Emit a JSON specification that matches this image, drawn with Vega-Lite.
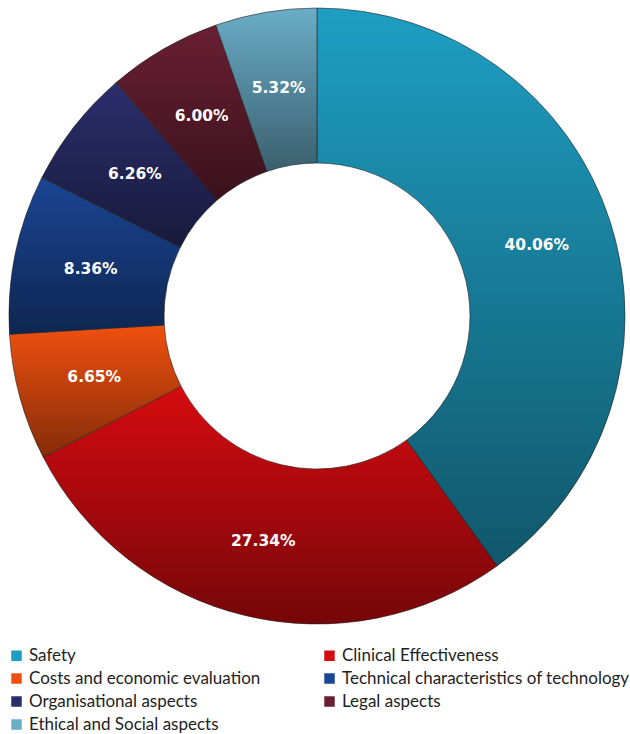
{
  "$schema": "https://vega.github.io/schema/vega-lite/v6.json",
  "width": 626,
  "height": 632,
  "padding": {"left": 4, "top": 0, "right": 0, "bottom": 0},
  "background": "white",
  "view": {"stroke": null},
  "data": {
    "values": [
      {"category": "Safety", "share": 40.06, "label": "40.06%", "order": 1},
      {"category": "Clinical Effectiveness", "share": 27.34, "label": "27.34%", "order": 2},
      {"category": "Costs and economic evaluation", "share": 6.65, "label": "6.65%", "order": 3},
      {"category": "Technical characteristics of technology", "share": 8.36, "label": "8.36%", "order": 4},
      {"category": "Organisational aspects", "share": 6.26, "label": "6.26%", "order": 5},
      {"category": "Legal aspects", "share": 6.00, "label": "6.00%", "order": 6},
      {"category": "Ethical and Social aspects", "share": 5.32, "label": "5.32%", "order": 7}
    ]
  },
  "encoding": {
    "theta": {"field": "share", "type": "quantitative", "stack": true},
    "order": {"field": "order", "type": "quantitative"}
  },
  "layer": [
    {
      "mark": {"type": "arc", "outerRadius": 308, "innerRadius": 153, "stroke": "#2a2a2a", "strokeWidth": 0.6},
      "encoding": {
        "color": {
          "field": "category",
          "type": "nominal",
          "scale": {
            "domain": ["Safety", "Clinical Effectiveness", "Costs and economic evaluation", "Technical characteristics of technology", "Organisational aspects", "Legal aspects", "Ethical and Social aspects"],
            "range": ["#1e9ec2", "#d50b10", "#f0500f", "#1a4594", "#2b2e6c", "#691f33", "#6aadc7"]
          },
          "legend": {
            "orient": "none",
            "legendX": 4,
            "legendY": 647,
            "title": null,
            "columns": 2,
            "direction": "horizontal",
            "columnPadding": 60,
            "rowPadding": 5,
            "symbolType": "square",
            "symbolSize": 110,
            "symbolStrokeWidth": 0,
            "labelFont": "Lato",
            "labelFontSize": 17,
            "labelColor": "#1e1e1e",
            "labelOffset": 4,
            "labelLimit": 400
          }
        }
      }
    },
    {
      "mark": {
        "type": "arc", "outerRadius": 308, "innerRadius": 153, "strokeWidth": 0,
        "fill": {"gradient": "linear", "x1": 0, "y1": 0, "x2": 0, "y2": 1, "stops": [{"offset": 0, "color": "rgba(0,0,0,0)"}, {"offset": 1, "color": "rgba(0,0,0,0.45)"}]}
      },
      "encoding": {}
    },
    {
      "mark": {"type": "text", "radius": 231, "font": "DejaVu Sans", "fontWeight": "bold", "fontSize": 15.5, "fill": "white"},
      "encoding": {
        "text": {"field": "label", "type": "nominal"}
      }
    }
  ]
}
